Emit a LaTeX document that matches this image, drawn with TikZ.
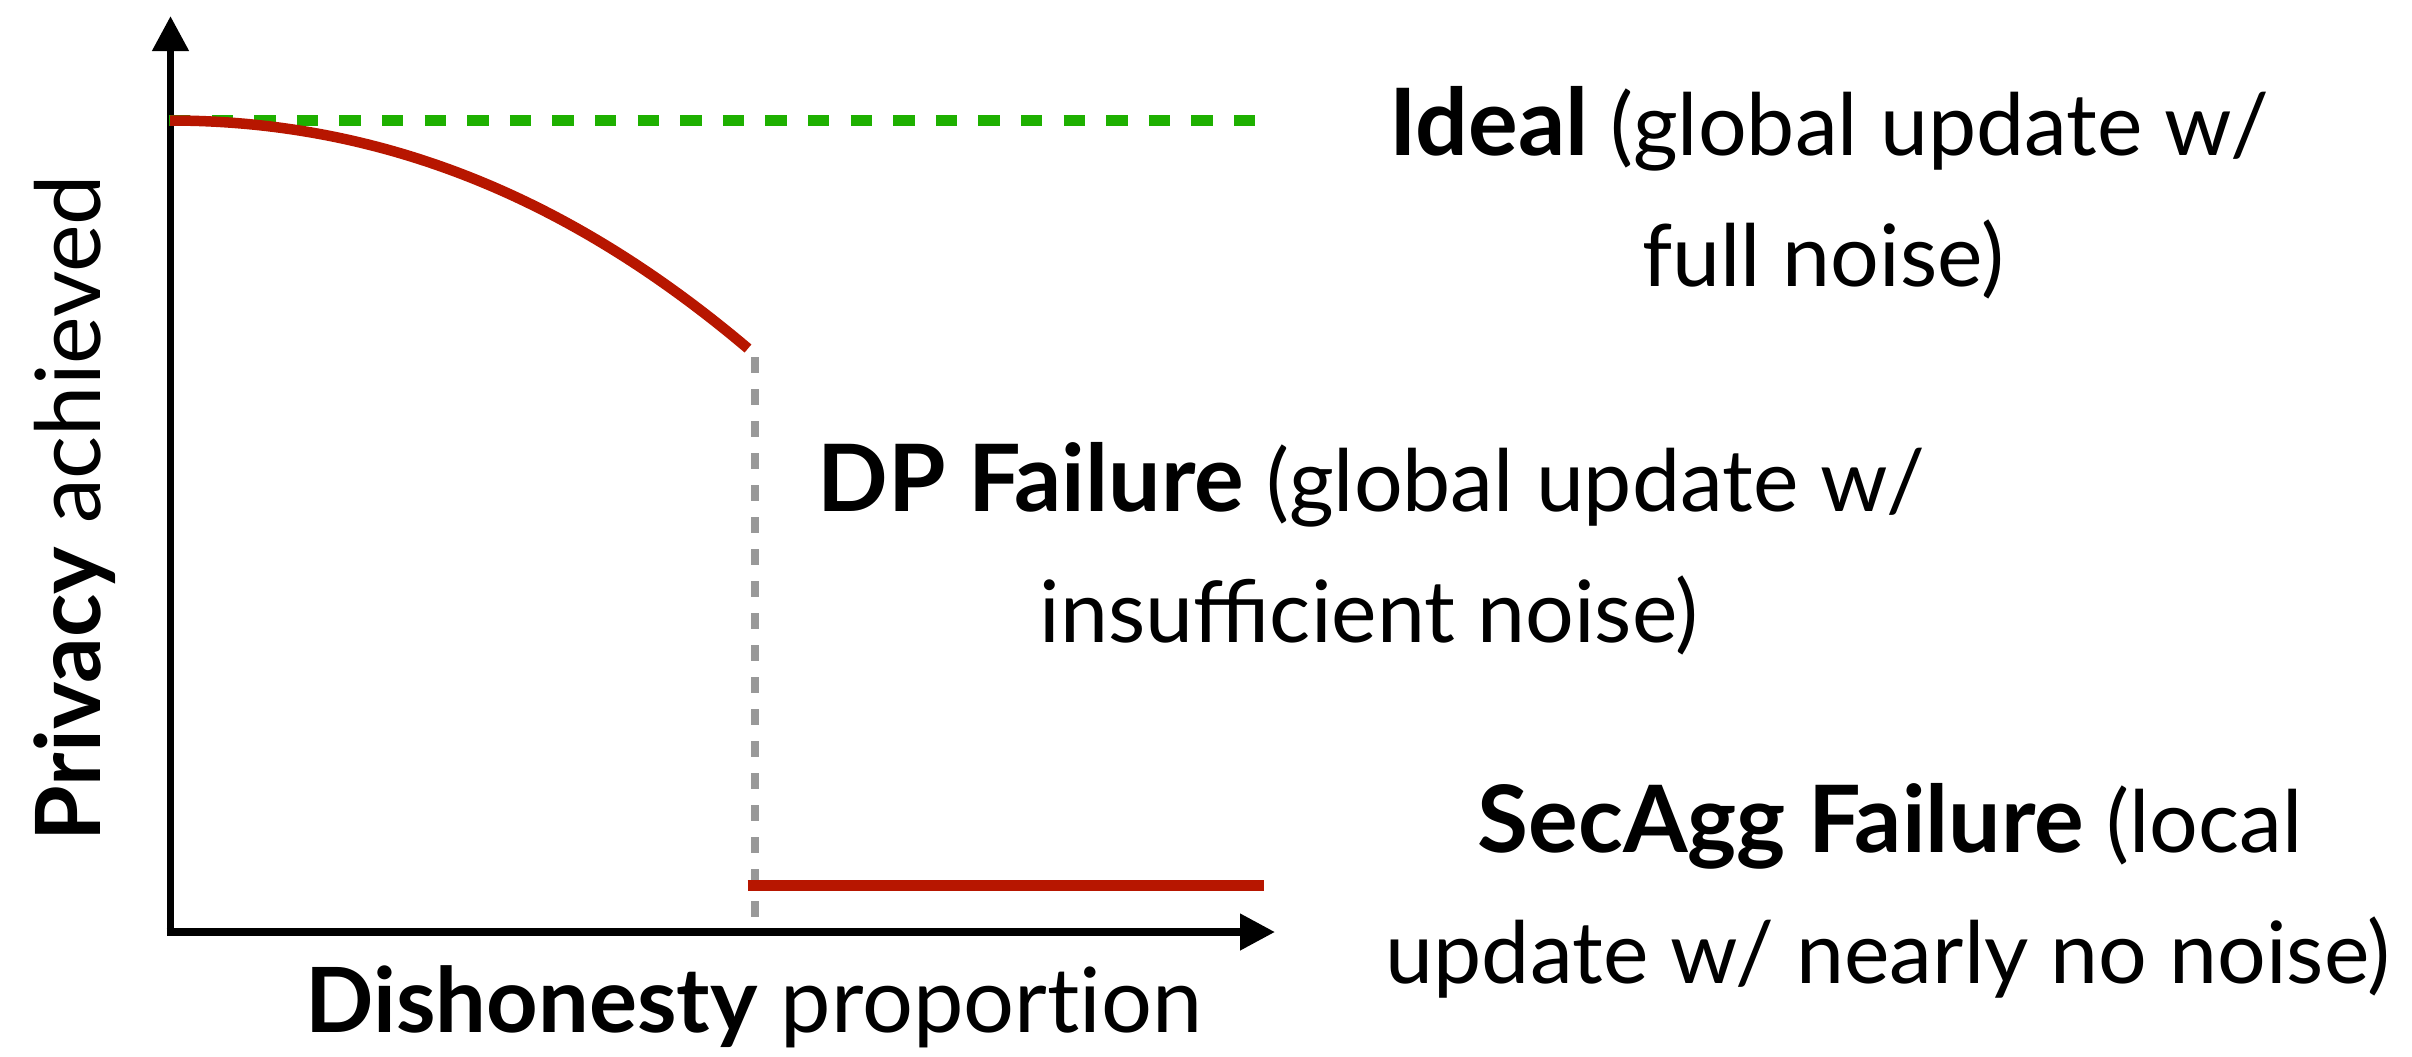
\documentclass[tikz,border=0pt]{standalone}
\usepackage{fontspec}
\setmainfont{Lato}
\usetikzlibrary{arrows.meta}

\definecolor{okgreen}{RGB}{30,176,0}
\definecolor{failred}{RGB}{183,22,0}
\definecolor{guidegray}{RGB}{153,153,153}

% heavier, slightly larger heading words inside the labels
\newcommand{\keyword}[1]{{\fontsize{93bp}{110bp}\selectfont\bfseries #1}}

\tikzset{
  axisline/.style={line width=7.6bp, line join=miter, -{Triangle[length=35bp,width=35bp]}},
  idealline/.style={okgreen, line width=11bp, dash pattern=on 21.3bp off 21.3bp},
  failline/.style={failred, line width=10.5bp},
  guideline/.style={guidegray, line width=8bp, dash pattern=on 16bp off 16bp},
  lbl/.style={inner sep=0pt, anchor=base, font=\fontsize{86bp}{110bp}\selectfont},
  axlbl/.style={inner sep=0pt, anchor=base, font=\fontsize{90bp}{106bp}\selectfont},
}

\begin{document}
\begin{tikzpicture}[x=1bp, y=-1bp]
  \useasboundingbox (0,0) rectangle (2412,1056);

  % axes
  \coordinate (ytip) at (170.5,16);
  \coordinate (origin) at (170.5,932);
  \coordinate (xtip) at (1275,932);
  \draw[axisline] (origin) -- (ytip);
  \draw[axisline] (166.7,932) -- (xtip);

  % ideal level
  \coordinate (idealL) at (169,120.5);
  \coordinate (idealR) at (1257,120.5);
  \draw[idealline] (idealL) -- (idealR);

  % privacy decreasing with dishonesty, then collapse
  \coordinate (curveS) at (170,120.5);
  \coordinate (curveE) at (748,348.5);
  \draw[failline] (curveS) .. controls (400,120.5) and (586.2,211.7) .. (curveE);

  \coordinate (dropT) at (755,357);
  \coordinate (dropB) at (755,918);
  \draw[guideline] (dropT) -- (dropB);

  \coordinate (lowL) at (747.7,885.7);
  \coordinate (lowR) at (1264,885.7);
  \draw[failline] (lowL) -- (lowR);

  % axis labels
  \node[axlbl] (xlab) at (754,1032) {\textbf{Dishonesty} proport\kern0pt ion};
  \node[axlbl, rotate=90] (ylab) at (100,508) {\textbf{Privacy} achieved};

  % regime labels
  \node[lbl] (ideal1) at (1829,155) {\keyword{Ideal} (global update w/};
  \node[lbl] (ideal2) at (1823,286) {full noise)};
  \node[lbl] (dp1) at (1371,511) {\keyword{DP Failure} (global update w/};
  \node[lbl] (dp2) at (1369,642) {insufficient noise)};
  \node[lbl] (sa1) at (1890,852) {\keyword{SecAgg Failure} (local};
  \node[lbl] (sa2) at (1888,983) {update w/ nearly no noise)};
\end{tikzpicture}
\end{document}
